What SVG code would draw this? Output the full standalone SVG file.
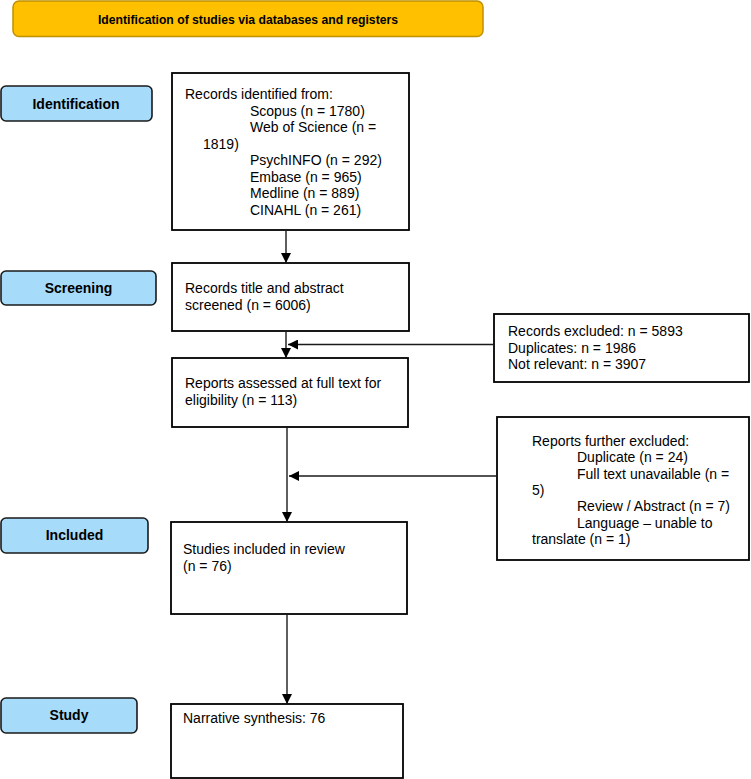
<svg xmlns="http://www.w3.org/2000/svg" width="751" height="779" viewBox="0 0 751 779">
<defs>
<style>
.t{font-family:"Liberation Sans",Arial,sans-serif;font-size:14px;fill:#000}
.b{font-family:"Liberation Sans",Arial,sans-serif;font-weight:bold;fill:#000;text-anchor:middle}
.box{fill:#fff;stroke:#000;stroke-width:1.8}
.lab{fill:#A7DBFA;stroke:#1a1a1a;stroke-width:1.6}
.con{stroke:#1a1a1a;stroke-width:1.4;fill:none}
</style>
<marker id="ah" viewBox="0 0 10 10" refX="10" refY="5" markerWidth="10" markerHeight="10" markerUnits="userSpaceOnUse" orient="auto">
<path d="M0,0 L10,5 L0,10 Z" fill="#000"/>
</marker>
</defs>
<rect width="751" height="779" fill="#fff"/>
<g id="title">
<rect x="13" y="1" width="470" height="35.5" rx="6" fill="#FFC000" stroke="#BF9000" stroke-width="1.5"/>
<text class="b" x="248" y="23.5" font-size="12.2">Identification of studies via databases and registers</text>
</g>
<g id="label-identification">
<rect class="lab" x="1" y="86" width="151" height="35" rx="5"/>
<text class="b" x="76" y="108.5" font-size="14">Identification</text>
</g>
<g id="label-screening">
<rect class="lab" x="1" y="271" width="155" height="34" rx="5"/>
<text class="b" x="78.5" y="293" font-size="14">Screening</text>
</g>
<g id="label-included">
<rect class="lab" x="1" y="518" width="147" height="35" rx="5"/>
<text class="b" x="74.5" y="540" font-size="14">Included</text>
</g>
<g id="label-study">
<rect class="lab" x="1" y="698" width="136" height="35" rx="5"/>
<text class="b" x="69" y="720" font-size="14">Study</text>
</g>
<g id="records-identified">
<rect class="box" x="172" y="73" width="237" height="157"/>
<text class="t" x="185" y="99">Records identified from:</text>
<text class="t" x="250" y="115.5">Scopus (n = 1780)</text>
<text class="t" x="250" y="132">Web of Science (n =</text>
<text class="t" x="203" y="148.5">1819)</text>
<text class="t" x="250" y="165">PsychINFO (n = 292)</text>
<text class="t" x="250" y="181.5">Embase (n = 965)</text>
<text class="t" x="250" y="198">Medline (n = 889)</text>
<text class="t" x="250" y="214.5">CINAHL (n = 261)</text>
</g>
<g id="records-screened">
<rect class="box" x="172" y="263" width="237" height="68"/>
<text class="t" x="185" y="293">Records title and abstract</text>
<text class="t" x="185" y="309.5">screened (n = 6006)</text>
</g>
<g id="records-excluded">
<rect class="box" x="494" y="314" width="255" height="68"/>
<text class="t" x="508" y="336">Records excluded: n = 5893</text>
<text class="t" x="508" y="352.5">Duplicates: n = 1986</text>
<text class="t" x="508" y="369">Not relevant: n = 3907</text>
</g>
<g id="reports-assessed">
<rect class="box" x="172" y="358" width="236" height="69"/>
<text class="t" x="185" y="388">Reports assessed at full text for</text>
<text class="t" x="185" y="404.5">eligibility (n = 113)</text>
</g>
<g id="reports-excluded">
<rect class="box" x="497" y="417" width="252" height="143"/>
<text class="t" x="532" y="446">Reports further excluded:</text>
<text class="t" x="577" y="462.3">Duplicate (n = 24)</text>
<text class="t" x="577" y="478.6">Full text unavailable (n =</text>
<text class="t" x="532" y="494.9">5)</text>
<text class="t" x="577" y="511.2">Review / Abstract (n = 7)</text>
<text class="t" x="577" y="527.5">Language – unable to</text>
<text class="t" x="532" y="543.8">translate (n = 1)</text>
</g>
<g id="studies-included">
<rect class="box" x="171" y="522" width="236" height="92"/>
<text class="t" x="183" y="554">Studies included in review</text>
<text class="t" x="183" y="570.5">(n = 76)</text>
</g>
<g id="narrative">
<rect class="box" x="171" y="704" width="232" height="74"/>
<text class="t" x="183" y="723">Narrative synthesis: 76</text>
</g>
<g id="connectors">
<line class="con" x1="286" y1="230" x2="286" y2="263" marker-end="url(#ah)"/>
<line class="con" x1="286" y1="331" x2="286" y2="358" marker-end="url(#ah)"/>
<line class="con" x1="494" y1="344.5" x2="288" y2="344.5" stroke="#555" marker-end="url(#ah)"/>
<line class="con" x1="287" y1="427" x2="287" y2="522" marker-end="url(#ah)"/>
<line class="con" x1="497" y1="476" x2="289" y2="476" marker-end="url(#ah)"/>
<line class="con" x1="287" y1="614" x2="287" y2="704" marker-end="url(#ah)"/>
</g>
</svg>
